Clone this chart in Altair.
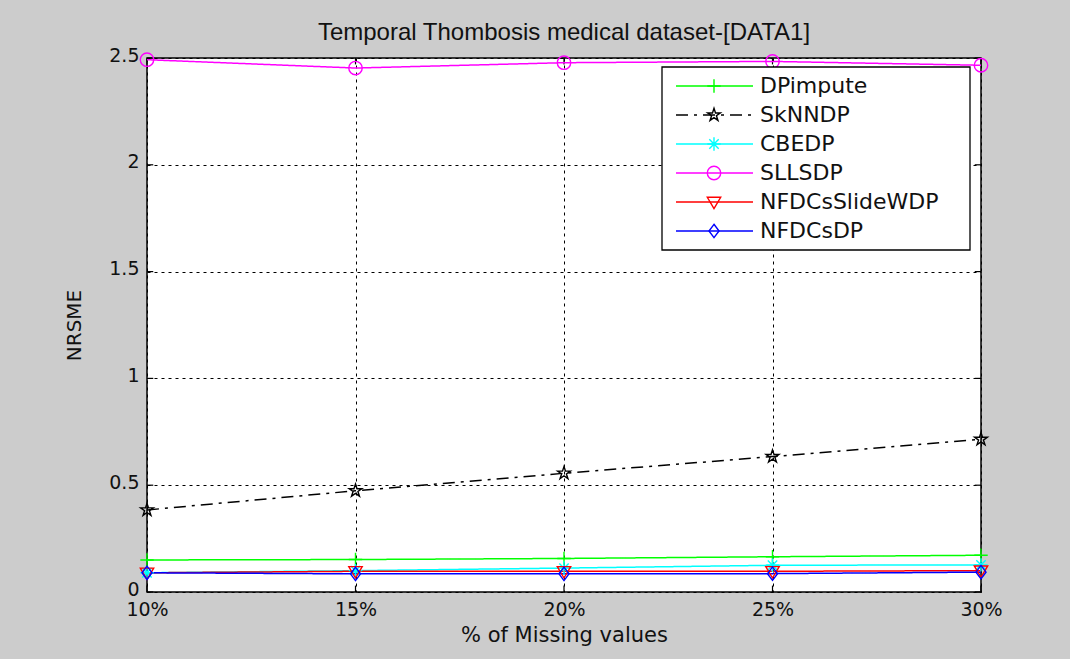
import altair as alt
import pandas as pd

# ---- data ----
missing_pct = [10, 15, 20, 25, 30]
series_names = ["DPimpute", "SkNNDP", "CBEDP", "SLLSDP", "NFDCsSlideWDP", "NFDCsDP"]
dpimpute = [0.150, 0.152, 0.157, 0.165, 0.172]
sknndp = [0.384, 0.474, 0.556, 0.634, 0.715]
cbedp = [0.090, 0.100, 0.112, 0.125, 0.127]
sllsdp = [2.492, 2.453, 2.478, 2.484, 2.466]
nfdcsslidewdp = [0.090, 0.097, 0.097, 0.097, 0.100]
nfdcsdp = [0.090, 0.085, 0.085, 0.086, 0.093]
x_ticks = [10, 15, 20, 25, 30]
y_ticks = [0, 0.5, 1, 1.5, 2, 2.5]

values = [dpimpute, sknndp, cbedp, sllsdp, nfdcsslidewdp, nfdcsdp]
rows = []
for order, (name, vals) in enumerate(zip(series_names, values)):
    for x, v in zip(missing_pct, vals):
        rows.append({"pct": x, "nrsme": v, "series": name, "order": order})
df = pd.DataFrame(rows)

legend_df = pd.DataFrame({"series": series_names, "row": list(range(len(series_names)))})
box_df = pd.DataFrame({"k": [0]})

# inside tick marks (MATLAB style), drawn through the data scales
X0, X1, Y0, Y1 = 10, 30, 0, 2.5
TX = 0.15   # tick length in x units
TY = 0.03   # tick length in y units
xt_rows = []
for t in x_ticks:
    xt_rows.append({"pct": t, "a": Y0, "b": Y0 + TY})
    xt_rows.append({"pct": t, "a": Y1 - TY, "b": Y1})
xt_df = pd.DataFrame(xt_rows)
yt_rows = []
for t in y_ticks:
    yt_rows.append({"nrsme": t, "a": X0, "b": X0 + TX})
    yt_rows.append({"nrsme": t, "a": X1 - TX, "b": X1})
yt_df = pd.DataFrame(yt_rows)

# ---- styles ----
colors = ["#00ff00", "#000000", "#00ffff", "#ff00ff", "#ff0000", "#0000ff"]
dashes = [[1, 0], [12, 6, 3, 6], [1, 0], [1, 0], [1, 0], [1, 0]]
plus = "M-1,0L1,0M0,-1L0,1"
star = ("M0,-1L0.225,-0.309L0.951,-0.309L0.363,0.118L0.588,0.809L0,0.382"
        "L-0.588,0.809L-0.363,0.118L-0.951,-0.309L-0.225,-0.309Z")
asterisk = "M-1,0L1,0M0,-1L0,1M-0.7,-0.7L0.7,0.7M-0.7,0.7L0.7,-0.7"
circle = "circle"
tri_down = "M-1,-0.7L1,-0.7L0,1Z"
diamond = "M0,-1L0.75,0L0,1L-0.75,0Z"
shapes = [plus, star, asterisk, circle, tri_down, diamond]

color_enc = alt.Color("series:N", scale=alt.Scale(domain=series_names, range=colors), legend=None)
dash_enc = alt.StrokeDash("series:N", scale=alt.Scale(domain=series_names, range=dashes), legend=None)
shape_enc = alt.Shape("series:N", scale=alt.Scale(domain=series_names, range=shapes), legend=None)

FONT = "DejaVu Sans"
INK = "#111111"

x_enc = alt.X(
    "pct:Q",
    scale=alt.Scale(domain=[X0, X1], nice=False, zero=False),
    axis=alt.Axis(
        values=x_ticks, labelExpr="datum.value + '%'", title="% of Missing values",
        grid=True, gridColor="black", gridDash=[3, 4], gridWidth=1, gridOpacity=1,
        ticks=False, domain=False, labelFlush=False, labelPadding=8,
        labelFont=FONT, labelFontSize=19, labelColor=INK,
        titleFont=FONT, titleFontSize=21, titleFontWeight="normal", titleColor=INK,
        titlePadding=5,
    ),
)
y_enc = alt.Y(
    "nrsme:Q",
    scale=alt.Scale(domain=[Y0, Y1], nice=False, zero=True),
    axis=alt.Axis(
        values=y_ticks, format="~g", title="NRSME",
        grid=True, gridColor="black", gridDash=[3, 4], gridWidth=1, gridOpacity=1,
        ticks=False, domain=False, labelPadding=8, labelOffset=-3,
        labelFont=FONT, labelFontSize=19, labelColor=INK,
        titleFont=FONT, titleFontSize=20, titleFontWeight="normal", titleColor=INK,
        titlePadding=24,
    ),
)

xticks_layer = alt.Chart(xt_df).mark_rule(color="black", strokeWidth=1.2).encode(
    x=x_enc, y=alt.Y("a:Q"), y2="b:Q"
)
yticks_layer = alt.Chart(yt_df).mark_rule(color="black", strokeWidth=1.2).encode(
    y=y_enc, x=alt.X("a:Q"), x2="b:Q"
)

lines = alt.Chart(df).mark_line(strokeWidth=1.5).encode(
    x="pct:Q", y="nrsme:Q", color=color_enc, strokeDash=dash_enc, detail="series:N",
    order=alt.Order("order:Q"),
)
points = alt.Chart(df).mark_point(filled=False, size=180, strokeWidth=1.4, opacity=1).encode(
    x="pct:Q", y="nrsme:Q", color=color_enc, shape=shape_enc,
    order=alt.Order("order:Q"),
)
main = alt.layer(xticks_layer, yticks_layer, lines, points)

# ---- legend (drawn through its own row scale) ----
leg_y = alt.Y("row:Q", scale=alt.Scale(domain=[0, 5], range=[28, 173]), axis=None)
box = alt.Chart(box_df).mark_rect(fill="white", stroke="black", strokeWidth=1.3).encode(
    x=alt.value(515), x2=alt.value(823), y=alt.value(9), y2=alt.value(192)
)
leg_lines = alt.Chart(legend_df).mark_rule(strokeWidth=1.5).encode(
    x=alt.value(529), x2=alt.value(606), y=leg_y, color=color_enc, strokeDash=dash_enc
)
leg_pts = alt.Chart(legend_df).mark_point(filled=False, size=180, strokeWidth=1.4, opacity=1).encode(
    x=alt.value(567), y=leg_y, color=color_enc, shape=shape_enc
)
leg_text = alt.Chart(legend_df).mark_text(
    align="left", baseline="middle", font=FONT, fontSize=22, color=INK
).encode(x=alt.value(613), y=leg_y, text="series:N")
legend = alt.layer(box, leg_lines, leg_pts, leg_text)

chart = alt.layer(main, legend).resolve_scale(y="independent").properties(
    width=834,
    height=534,
    title=alt.TitleParams(
        "Temporal Thombosis medical dataset-[DATA1]",
        font="Liberation Sans", fontSize=24, fontWeight="normal", color=INK,
        anchor="middle", frame="group", baseline="alphabetic", offset=15, dy=33,
    ),
    background="#cccccc",
    autosize=alt.AutoSizeParams(type="none"),
    padding={"left": 147, "top": 58, "right": 89, "bottom": 67},
).configure_view(
    stroke="black", strokeWidth=1.5, fill="white"
)

chart.save("out.html", embed_options={"renderer": "svg", "actions": False})
